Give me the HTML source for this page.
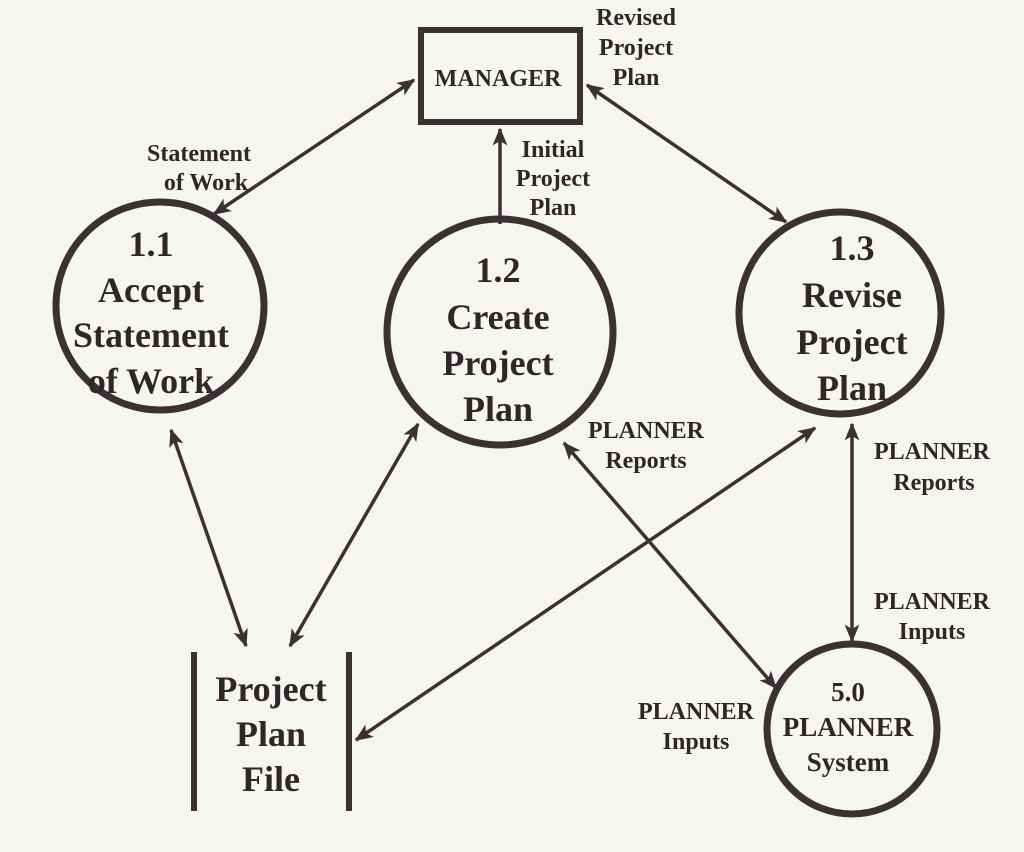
<!DOCTYPE html>
<html><head><meta charset="utf-8"><style>
html,body{margin:0;padding:0;background:#f7f5f1;}
svg{display:block}
text{font-family:"Liberation Serif",serif;font-weight:bold;fill:#2e2727;text-anchor:middle}
</style></head><body>
<svg width="1024" height="852" viewBox="0 0 1024 852" xmlns="http://www.w3.org/2000/svg">
<defs>
<marker id="h" viewBox="0 0 12 10" refX="11" refY="5" markerWidth="18" markerHeight="15" orient="auto-start-reverse" markerUnits="userSpaceOnUse">
<path d="M0,0 L12,5 L0,10 L3,5 z" fill="#3a3232"/>
</marker>
</defs>
<rect width="1024" height="852" fill="#f7f5f1"/>
<g stroke="#3a3232" fill="none">
<rect x="421" y="30" width="159" height="92" stroke-width="6"/>
<circle cx="160" cy="306" r="104" stroke-width="7"/>
<circle cx="500" cy="332" r="113" stroke-width="7"/>
<circle cx="840" cy="313" r="101" stroke-width="7"/>
<circle cx="852" cy="729" r="85" stroke-width="7"/>
<line x1="194" y1="652" x2="194" y2="811" stroke-width="6"/>
<line x1="349" y1="652" x2="349" y2="811" stroke-width="6"/>
<g stroke-width="3.5">
<line x1="414" y1="80" x2="214" y2="214" marker-start="url(#h)" marker-end="url(#h)"/>
<line x1="500" y1="224" x2="500" y2="129" marker-end="url(#h)"/>
<line x1="587" y1="85" x2="786" y2="222" marker-start="url(#h)" marker-end="url(#h)"/>
<line x1="171" y1="430" x2="246" y2="646" marker-start="url(#h)" marker-end="url(#h)"/>
<line x1="418" y1="424" x2="290" y2="646" marker-start="url(#h)" marker-end="url(#h)"/>
<line x1="815" y1="428" x2="356" y2="740" marker-start="url(#h)" marker-end="url(#h)"/>
<line x1="564" y1="443" x2="776" y2="688" marker-start="url(#h)" marker-end="url(#h)"/>
<line x1="852" y1="424" x2="852" y2="641" marker-start="url(#h)" marker-end="url(#h)"/>
</g>
</g>
<text x="498" y="86" font-size="24">MANAGER</text>
<g font-size="24">
<text x="636" y="25">Revised</text><text x="636" y="55">Project</text><text x="636" y="85">Plan</text>
<text x="199" y="161">Statement</text><text x="206" y="190">of Work</text>
<text x="553" y="157">Initial</text><text x="553" y="186">Project</text><text x="553" y="215">Plan</text>
<text x="646" y="438">PLANNER</text><text x="646" y="468">Reports</text>
<text x="932" y="459">PLANNER</text><text x="934" y="490">Reports</text>
<text x="932" y="609">PLANNER</text><text x="932" y="639">Inputs</text>
<text x="696" y="719">PLANNER</text><text x="696" y="749">Inputs</text>
</g>
<g font-size="36">
<text x="151" y="256">1.1</text><text x="151" y="302">Accept</text><text x="151" y="347">Statement</text><text x="151" y="393">of Work</text>
<text x="498" y="282">1.2</text><text x="498" y="329">Create</text><text x="498" y="375">Project</text><text x="498" y="421">Plan</text>
<text x="852" y="260">1.3</text><text x="852" y="307">Revise</text><text x="852" y="354">Project</text><text x="852" y="400">Plan</text>
<text x="271" y="701">Project</text><text x="271" y="746">Plan</text><text x="271" y="791">File</text>
</g>
<g font-size="27">
<text x="848" y="701">5.0</text><text x="848" y="736">PLANNER</text><text x="848" y="771">System</text>
</g>
</svg>
</body></html>
